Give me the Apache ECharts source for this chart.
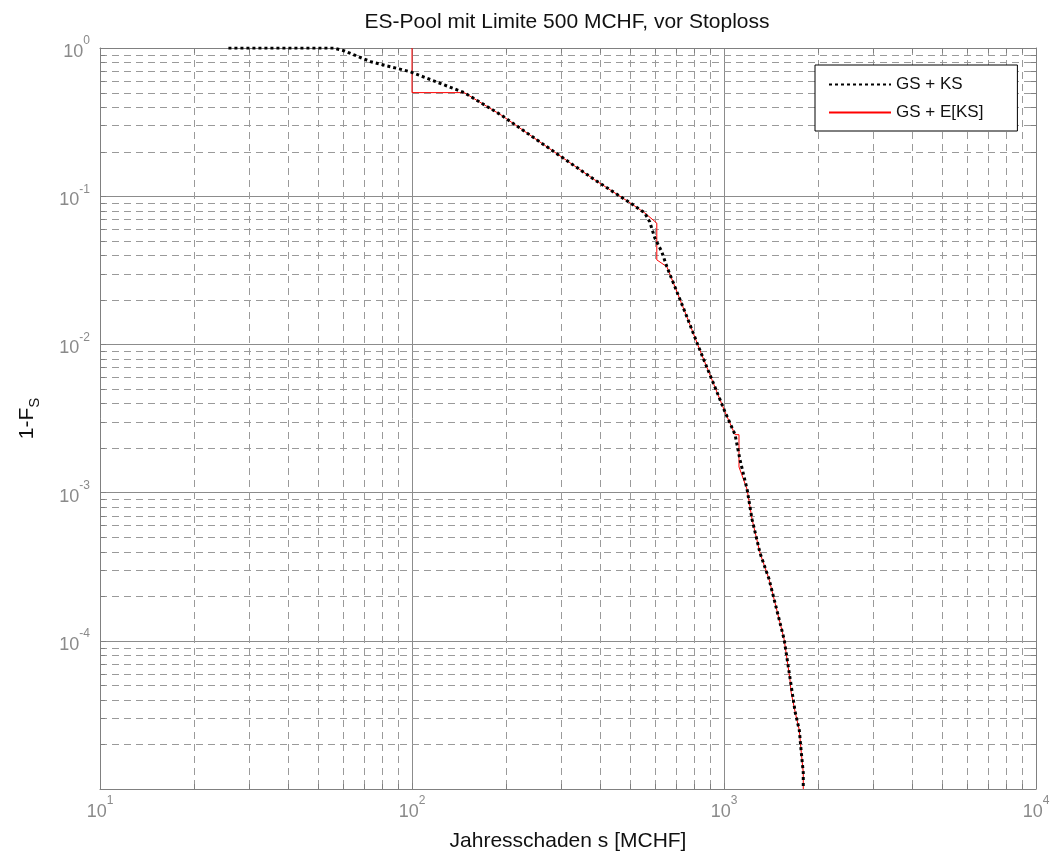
<!DOCTYPE html>
<html>
<head>
<meta charset="utf-8">
<script src="https://cdn.jsdelivr.net/npm/echarts@6/dist/echarts.min.js"></script>
<style>
  html, body { margin: 0; padding: 0; background: #fff; }
  #chart { width: 1054px; height: 857px; }
</style>
</head>
<body>
<div id="chart"></div>
<script>
// Exceedance curve 1-F_S of the annual loss, two variants
const ksX = [25.8, 56, 60.4, 73.8, 98.5, 147, 193, 280, 385, 495, 557, 578, 600, 632, 656, 696, 760, 831, 915, 1007, 1085, 1125, 1186, 1230, 1305, 1395, 1448, 1503, 1559, 1630, 1691, 1743, 1769, 1795, 1795];
const ksY = [1, 1, 0.959, 0.808, 0.692, 0.5, 0.353, 0.205, 0.129, 0.0915, 0.0772, 0.0671, 0.0523, 0.0421, 0.0334, 0.0245, 0.0154, 0.0095, 0.00577, 0.00351, 0.00246, 0.00167, 0.00105, 0.00066, 0.00039, 0.00026, 0.00019, 0.000139, 0.000102, 5.5e-5, 3.3e-5, 2.5e-5, 1.76e-5, 1.29e-5, 1e-5];

const eksX = [100, 100, 147, 193, 280, 385, 495, 557, 609, 609, 656, 696, 760, 831, 915, 1007, 1085, 1117, 1117, 1186, 1230, 1305, 1395, 1448, 1503, 1559, 1625, 1642, 1691, 1743, 1769, 1795, 1795];
const eksY = [1, 0.5, 0.5, 0.353, 0.205, 0.129, 0.0915, 0.0772, 0.0658, 0.0372, 0.0334, 0.0245, 0.0154, 0.0095, 0.00577, 0.00351, 0.00246, 0.00246, 0.00149, 0.00105, 0.00066, 0.00039, 0.00026, 0.00019, 0.000139, 0.000102, 5.6e-5, 4.47e-5, 3.3e-5, 2.5e-5, 1.76e-5, 1.29e-5, 1e-5];

const seriesNames = ['GS + KS', 'GS + E[KS]'];

// axis ranges (decades)
const xRange = [10, 10000];
const yRange = [1e-5, 1];

// minor grid positions: 2..9 within every decade
const minorX = [];
for (let d = 10; d < xRange[1]; d *= 10) for (let k = 2; k <= 9; k++) minorX.push(k * d);
const minorY = [];
for (let d = yRange[0]; d < yRange[1] * 0.99; d *= 10) for (let k = 2; k <= 9; k++) minorY.push(+(k * d).toPrecision(3));

const pairs = (xs, ys) => xs.map((x, i) => [x, ys[i]]);

const gridData = minorX.map(v => [v, 1, 0]).concat(minorY.map(v => [100, v, 1]));

const labelColor = '#8a8a8a';
const axisColor = '#808080';

function powLabel(v) {
  const e = Math.round(Math.log10(v));
  return '{b|10}{s|' + e + '}';
}
const powRich = {
  b: { fontSize: 18, color: labelColor, fontFamily: 'Liberation Sans, Arial', lineHeight: 26, verticalAlign: 'bottom' },
  s: { fontSize: 12, color: labelColor, fontFamily: 'Liberation Sans, Arial', lineHeight: 26, verticalAlign: 'top' }
};

const chart = echarts.init(document.getElementById('chart'), null, { renderer: 'canvas' });

chart.setOption({
  animation: false,
  backgroundColor: '#fff',
  textStyle: { fontFamily: 'Liberation Sans, Arial, sans-serif' },
  title: {
    text: 'ES-Pool mit Limite 500 MCHF, vor Stoploss',
    left: 567, top: 12, textAlign: 'center', padding: 0,
    textStyle: { fontSize: 21, fontWeight: 'normal', color: '#111' }
  },
  legend: {
    data: seriesNames,
    orient: 'vertical',
    left: 815, top: 65,
    padding: [11, 34, 10, 13],
    itemWidth: 62, itemHeight: 14, itemGap: 11,
    backgroundColor: '#fff',
    borderColor: '#000', borderWidth: 1, borderRadius: 0,
    itemStyle: { opacity: 0 },
    textStyle: { fontSize: 17, color: '#111' }
  },
  grid: { left: 100, right: 18, top: 48, bottom: 68, containLabel: false },
  xAxis: [{
    type: 'log', logBase: 10, min: xRange[0], max: xRange[1],
    name: 'Jahresschaden s [MCHF]', nameLocation: 'middle', nameGap: 42,
    nameTextStyle: { fontSize: 21, color: '#111' },
    axisLine: { lineStyle: { color: axisColor } },
    axisTick: { inside: true, length: 6, lineStyle: { color: axisColor } },
    axisLabel: { formatter: powLabel, rich: powRich, margin: 6 },
    splitLine: { show: true, lineStyle: { color: '#8c8c8c', width: 1 } },
    minorTick: { show: false }
  }, {
    type: 'log', logBase: 10, min: xRange[0], max: xRange[1], position: 'top',
    axisLine: { show: true, lineStyle: { color: axisColor } },
    axisTick: { show: false }, axisLabel: { show: false }, splitLine: { show: false }
  }],
  yAxis: [{
    type: 'log', logBase: 10, min: yRange[0], max: yRange[1],
    name: '1-F{s|S}', nameLocation: 'middle', nameGap: 58, nameRotate: 90,
    nameTextStyle: {
      fontSize: 21, color: '#111',
      rich: { s: { fontSize: 15, color: '#111', verticalAlign: 'bottom', lineHeight: 30 } }
    },
    axisLine: { show: true, lineStyle: { color: axisColor } },
    axisTick: { inside: true, length: 6, lineStyle: { color: axisColor } },
    axisLabel: {
      formatter: v => (Math.round(Math.log10(v)) <= -5 ? '' : powLabel(v)),
      rich: powRich, margin: 10
    },
    splitLine: { show: true, lineStyle: { color: '#8c8c8c', width: 1 } }
  }, {
    type: 'log', logBase: 10, min: yRange[0], max: yRange[1], position: 'right',
    axisLine: { show: true, lineStyle: { color: axisColor } },
    axisTick: { show: false }, axisLabel: { show: false }, splitLine: { show: false }
  }],
  series: [
    {
      // dashed minor grid lines with short inner ticks on all four sides
      type: 'custom', name: 'minorGrid', silent: true, z: 1,
      xAxisIndex: 0, yAxisIndex: 0,
      data: gridData,
      renderItem: function (params, api) {
        const cs = params.coordSys;
        const kind = api.value(2);
        const dash = { stroke: '#9a9a9a', lineWidth: 1, lineDash: [7, 5] };
        const tick = { stroke: axisColor, lineWidth: 1 };
        const children = [];
        if (kind === 0) {
          const x = Math.round(api.coord([api.value(0), 1])[0]) + 0.5;
          const y0 = cs.y, y1 = cs.y + cs.height;
          children.push({ type: 'line', shape: { x1: x, y1: y0, x2: x, y2: y1 }, style: dash });
          children.push({ type: 'line', shape: { x1: x, y1: y1, x2: x, y2: y1 - 5 }, style: tick });
          children.push({ type: 'line', shape: { x1: x, y1: y0, x2: x, y2: y0 + 5 }, style: tick });
        } else {
          const y = Math.round(api.coord([100, api.value(1)])[1]) + 0.5;
          const x0 = cs.x, x1 = cs.x + cs.width;
          children.push({ type: 'line', shape: { x1: x0, y1: y, x2: x1, y2: y }, style: dash });
          children.push({ type: 'line', shape: { x1: x0, y1: y, x2: x0 + 5, y2: y }, style: tick });
          children.push({ type: 'line', shape: { x1: x1, y1: y, x2: x1 - 5, y2: y }, style: tick });
        }
        return { type: 'group', children: children };
      }
    },
    {
      name: seriesNames[0], type: 'line', z: 4,
      data: pairs(ksX, ksY),
      showSymbol: false, symbol: 'none',
      lineStyle: { color: '#000', width: 3, type: [3, 3], cap: 'butt' },
      itemStyle: { color: '#000' }
    },
    {
      name: seriesNames[1], type: 'line', z: 3,
      data: pairs(eksX, eksY),
      showSymbol: false, symbol: 'none',
      lineStyle: { color: '#ff0000', width: 1 },
      itemStyle: { color: '#ff0000' }
    }
  ]
});
</script>
</body>
</html>
